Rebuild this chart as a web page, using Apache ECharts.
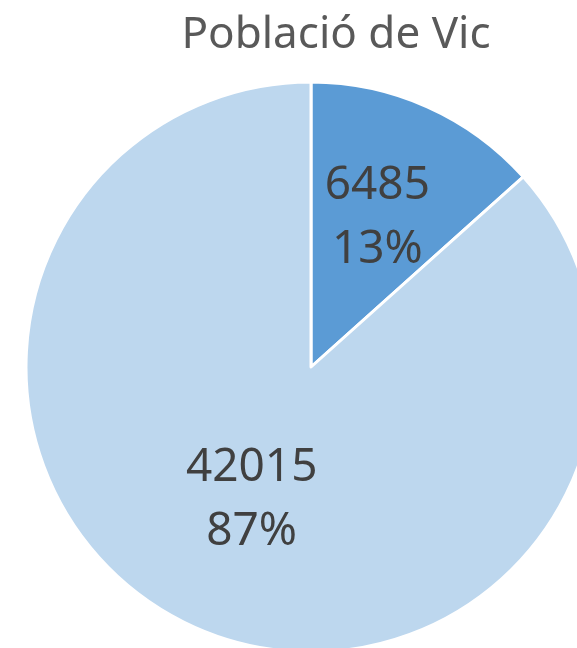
<!DOCTYPE html>
<html>
<head>
<meta charset="utf-8">
<script src="https://cdn.jsdelivr.net/npm/echarts@6/dist/echarts.min.js"></script>
<style>
html, body { margin: 0; padding: 0; background: #fff; }
#main { width: 577px; height: 648px; }
</style>
</head>
<body>
<div id="main"></div>
<script>
// dades
var categories = ['Grup A', 'Grup B'];
var values = [6485, 42015];
var colors = ['#5B9BD5', '#BDD7EE'];
var labelOffsets = [[7, -16], [0, 0]];

var pieData = [];
categories.forEach(function(name, i) {
	pieData.push({
		name: name,
		value: values[i],
		itemStyle: { color: colors[i] },
		label: { offset: labelOffsets[i] }
	});
});

echarts.init(document.getElementById('main')).setOption({
	backgroundColor: '#ffffff',
	animation: false,
	title: {
		text: 'Població de Vic',
		left: 331,
		textAlign: 'center',
		top: 8,
		textStyle: {
			fontFamily: 'Noto Sans',
			fontWeight: 'normal',
			fontSize: 44,
			color: '#595959'
		}
	},
	series: [{
		type: 'pie',
		center: [311, 367],
		radius: 285,
		startAngle: 90,
		clockwise: true,
		data: pieData,
		itemStyle: {
			borderColor: '#ffffff',
			borderWidth: 3
		},
		label: {
			position: 'inside',
			formatter: function(p) {
				return p.value + '\n' + Math.round(p.percent) + '%';
			},
			fontFamily: 'Noto Sans',
			fontSize: 46,
			lineHeight: 64,
			color: '#404040'
		},
		labelLine: { show: false },
		emphasis: { disabled: true }
	}]
});
</script>
</body>
</html>
